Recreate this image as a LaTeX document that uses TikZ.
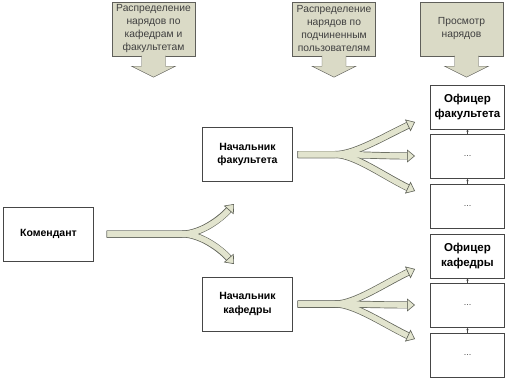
\documentclass[tikz,border=0pt]{standalone}
\usepackage{fontspec}
\setmainfont{Liberation Sans}
\usetikzlibrary{positioning,arrows.meta}

\definecolor{taskfill}{RGB}{218,218,198}
\definecolor{taskline}{RGB}{95,95,90}
\definecolor{bandfill}{RGB}{226,228,206}
\definecolor{bandline}{RGB}{95,98,88}
\definecolor{boxline}{RGB}{70,70,70}

\begin{document}
\begin{tikzpicture}[x=1pt, y=-1pt,
    task/.style={draw=taskline, fill=taskfill, minimum width=83pt, minimum height=54pt, inner sep=1pt, align=center, text=black!75, font=\fontsize{10.3}{13}\selectfont},
    block/.style={draw=boxline, fill=white, minimum width=90pt, minimum height=54pt, align=center, font=\fontsize{10.5}{13.5}\selectfont\bfseries},
    role/.style={draw=boxline, fill=white, minimum width=74pt, minimum height=44pt, align=center, font=\fontsize{11.5}{15}\selectfont\bfseries},
    more/.style={role, font=\fontsize{9}{10}\selectfont, text=black!70},
    link/.style={-{Latex[length=2.5pt,width=2.5pt]}, boxline, line width=0.5pt},
    bandedge/.style={draw=bandline, line width=7pt, shorten >=5pt},
    bandbody/.style={draw=bandfill, line width=5.6pt, shorten <=0.7pt, -{Triangle[length=8pt, width=13pt, line width=0.6pt, fill=bandfill, color=bandline]}}
]
\useasboundingbox (0,0) rectangle (517,378);

% Задачи
\node[task] (t1) at (153.5,29) {Распределение\\нарядов по\\кафедрам и\\факультетам};
\node[task] (t2) at (334,29) {Распределение\\нарядов по\\подчиненным\\пользователям};
\node[task] (t3) at (461.5,29) {Просмотр\\нарядов};
\foreach \t/\dx in {t1/0,t2/0,t3/5}
  \filldraw[fill=taskfill, draw=taskline] ([xshift=\dx pt]\t.south) ++(-12,-0.6) -- ++(0,10.6) -- ++(-10,0) -- ++(22,11) -- ++(22,-11) -- ++(-10,0) -- ++(0,-10.6);

% Пользователи
\node[block] (kom) at (48.5,234) {Комендант};
\node[block] (nfak) at (247.5,154.5) {Начальник\\факультета};
\node[block] (nkaf) at (247.5,304) {Начальник\\кафедры};

% Факультет
\node[role] (ofak) at (467.5,107) {Офицер\\факультета};
\node[more, below=5pt of ofak] (fak1) {...};
\node[more, below=5pt of fak1] (fak2) {...};

% Кафедра
\node[role] (okaf) at (467.5,256) {Офицер\\кафедры};
\node[more, below=5pt of okaf] (kaf1) {...};
\node[more, below=5pt of kaf1] (kaf2) {...};

\draw[link] (fak1) -- (ofak);
\draw[link] (fak2) -- (fak1);
\draw[link] (kaf1) -- (okaf);
\draw[link] (kaf2) -- (kaf1);

% Распределение
\coordinate (k0) at ([xshift=13pt]kom.east);
\coordinate (kf) at (182,234);
\coordinate (k1) at (234,204);
\coordinate (k2) at (234,264);
\coordinate (f0) at ([xshift=5pt]nfak.east);
\coordinate (ff) at (335,154.5);
\coordinate (f1) at (415,122);
\coordinate (f2) at (415,156);
\coordinate (f3) at (415,191);
\coordinate (c0) at ([xshift=5pt]nkaf.east);
\coordinate (cf) at (335,304);
\coordinate (c1) at (415,269);
\coordinate (c2) at (415,305);
\coordinate (c3) at (415,339);

\foreach \pass in {bandedge,bandbody} {
  \draw[\pass] (k0) -- (kf) .. controls +(18,0) and +(-14,16) .. (k1);
  \draw[\pass] (k0) -- (kf) .. controls +(18,0) and +(-14,-16) .. (k2);
  \draw[\pass] (f0) -- (ff) .. controls +(20,0) and +(-30,14) .. (f1);
  \draw[\pass] (f0) -- (ff) .. controls +(20,0) and +(-30,0) .. (f2);
  \draw[\pass] (f0) -- (ff) .. controls +(20,0) and +(-30,-14) .. (f3);
  \draw[\pass] (c0) -- (cf) .. controls +(20,0) and +(-30,14) .. (c1);
  \draw[\pass] (c0) -- (cf) .. controls +(20,0) and +(-30,0) .. (c2);
  \draw[\pass] (c0) -- (cf) .. controls +(20,0) and +(-30,-14) .. (c3);
}

\end{tikzpicture}
\end{document}
